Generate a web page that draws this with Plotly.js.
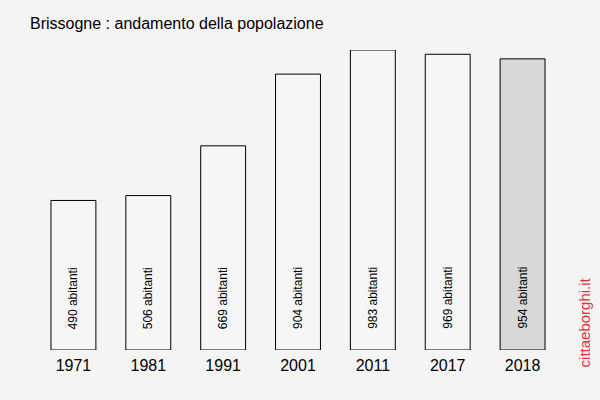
<!DOCTYPE html>
<html>
<head>
<meta charset="utf-8">
<script src="https://cdn.plot.ly/plotly-3.0.1.min.js"></script>
<style>html,body{margin:0;padding:0;background:#f4f4f4;}#chart{width:600px;height:400px;}</style>
</head>
<body>
<div id="chart"></div>
<script>
var years = ["1971", "1981", "1991", "2001", "2011", "2017", "2018"];
var population = [490, 506, 669, 904, 983, 969, 954];
var barLabels = population.map(function (v) { return v + " abitanti"; });
var barColors = years.map(function (y, i) { return i === years.length - 1 ? "#d8d8d8" : "#f6f6f6"; });

var FONT = "Liberation Sans, Arial, sans-serif";

var trace = {
  type: "bar",
  x: years,
  y: population,
  marker: { color: barColors, line: { color: "#000000", width: 1 } },
  hoverinfo: "none"
};

var annotations = years.map(function (y, i) {
  return {
    x: i, y: 52 / 300, xref: "x", yref: "paper",
    text: barLabels[i], showarrow: false, textangle: -90,
    xanchor: "center", yanchor: "middle",
    font: { family: FONT, size: 12, color: "#000" }
  };
});
annotations.push({
  x: (585 - 35.5) / 525, y: (400 - 50 - 322) / 300, xref: "paper", yref: "paper",
  xanchor: "center", yanchor: "middle",
  text: "cittaeborghi.it", showarrow: false, textangle: -90,
  font: { family: FONT, size: 15, color: "#e0303a" }
});

var layout = {
  width: 600, height: 400,
  paper_bgcolor: "#f4f4f4", plot_bgcolor: "#f4f4f4",
  margin: { l: 35.5, r: 39.5, t: 50, b: 50, pad: 0 },
  bargap: 0.4,
  showlegend: false,
  title: { text: "Brissogne : andamento della popolazione", x: 30 / 600, xanchor: "left", y: 1 - 23 / 400, yanchor: "middle",
    font: { family: FONT, size: 16, color: "#000" } },
  xaxis: { type: "category", showgrid: false, zeroline: false, showline: false, ticks: "", range: [-0.5, 6.5],
    ticklabelstandoff: 4,
    tickfont: { family: FONT, size: 16, color: "#000" }, fixedrange: true },
  yaxis: { range: [0, 983], showgrid: false, zeroline: false, showline: false, showticklabels: false, ticks: "", fixedrange: true },
  annotations: annotations
};

Plotly.newPlot("chart", [trace], layout, { displayModeBar: false, staticPlot: true });
</script>
</body>
</html>
